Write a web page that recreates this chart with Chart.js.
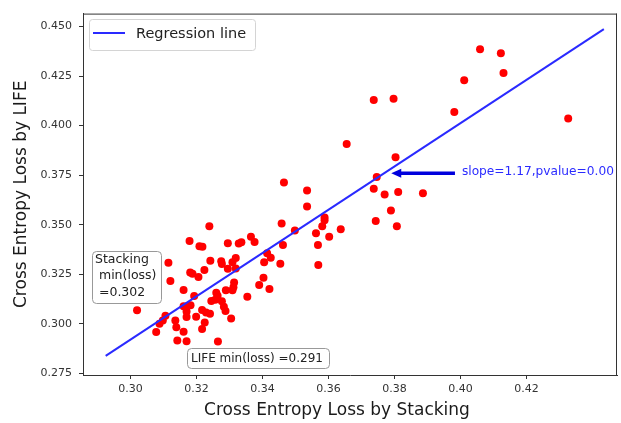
<!DOCTYPE html>
<html>
<head>
<meta charset="utf-8">
<title>Cross Entropy Loss: LIFE vs Stacking</title>
<script src="https://cdn.jsdelivr.net/npm/chart.js@4.4.0/dist/chart.umd.min.js"></script>
<style>
  html, body { margin: 0; padding: 0; background: #fff; }
  #chart { display: block; }
</style>
</head>
<body>
<canvas id="chart" width="621" height="423"></canvas>
<script>
// loss per run: x = Stacking, y = LIFE
const xStacking = [
  0.4059, 0.4122, 0.4130, 0.4011, 0.3737, 0.3797, 0.3981, 0.4326, 0.3655, 0.3803,
  0.3746, 0.3737, 0.3770, 0.3811, 0.3886, 0.3789, 0.3743, 0.3807,
  0.3465, 0.3535, 0.3535, 0.3458, 0.3239, 0.3179, 0.3209, 0.3218, 0.3295, 0.3328,
  0.3336, 0.3365, 0.3376, 0.3498, 0.3462, 0.3562, 0.3588, 0.3588, 0.3581, 0.3637,
  0.3602, 0.3568, 0.3569, 0.3454, 0.3414, 0.3425, 0.3405, 0.3403, 0.3390, 0.3421,
  0.3354, 0.3115, 0.3121, 0.3020, 0.3181, 0.3188, 0.3206, 0.3224, 0.3242, 0.3275,
  0.3277, 0.3295, 0.3309, 0.3319, 0.3319, 0.3161, 0.3193, 0.3314, 0.3312, 0.3309,
  0.3289, 0.3260, 0.3264, 0.3257, 0.3245, 0.3277, 0.3283, 0.3288, 0.3305, 0.3241,
  0.3229, 0.3217, 0.3199, 0.3225, 0.3217, 0.3182, 0.3170, 0.3161, 0.3170, 0.3170,
  0.3136, 0.3139, 0.3161, 0.3106, 0.3098, 0.3088, 0.3078, 0.3142, 0.3170, 0.3265
];
const yLife = [
  0.4385, 0.4365, 0.4265, 0.4229, 0.4129, 0.4136, 0.4069, 0.4036, 0.3907, 0.3840,
  0.3741, 0.3681, 0.3652, 0.3665, 0.3658, 0.3572, 0.3518, 0.3492,
  0.3713, 0.3672, 0.3592, 0.3506, 0.3492, 0.3418, 0.3391, 0.3389, 0.3406, 0.3405,
  0.3411, 0.3439, 0.3413, 0.3471, 0.3398, 0.3457, 0.3536, 0.3522, 0.3492, 0.3477,
  0.3439, 0.3398, 0.3296, 0.3303, 0.3356, 0.3333, 0.3310, 0.3232, 0.3196, 0.3176,
  0.3136, 0.3308, 0.3216, 0.3068, 0.3259, 0.3253, 0.3236, 0.3271, 0.3318, 0.3316,
  0.3301, 0.3277, 0.3311, 0.3332, 0.3279, 0.3170, 0.3140, 0.3208, 0.3184, 0.3169,
  0.3169, 0.3157, 0.3142, 0.3121, 0.3115, 0.3114, 0.3086, 0.3065, 0.3027, 0.3051,
  0.3057, 0.3069, 0.3036, 0.3006, 0.2973, 0.3094, 0.3087, 0.3089, 0.3062, 0.3034,
  0.3017, 0.2983, 0.2960, 0.3041, 0.3017, 0.3000, 0.2958, 0.2915, 0.2912, 0.2910
];

// fitted line end points
const lineX = [0.2925, 0.4434];
const lineY = [0.2838, 0.4487];

const xTicks = [0.30, 0.32, 0.34, 0.36, 0.38, 0.40, 0.42];
const yTicks = [0.275, 0.300, 0.325, 0.350, 0.375, 0.400, 0.425, 0.450];

const legendLabel = 'Regression line';
const slopeText = 'slope=1.17,pvalue=0.00';
const stackingMinText = ['Stacking', ' min(loss)', ' =0.302'];
const lifeMinText = 'LIFE min(loss) =0.291';
const xTitle = 'Cross Entropy Loss by Stacking';
const yTitle = 'Cross Entropy Loss by LIFE';

const FONT = '"DejaVu Sans", sans-serif';
const LINE_BLUE = '#2a2aff';

function roundBox(ctx, x, y, w, h, r, stroke) {
  ctx.beginPath();
  ctx.roundRect(x, y, w, h, r);
  ctx.fillStyle = '#fff';
  ctx.fill();
  ctx.strokeStyle = stroke;
  ctx.lineWidth = 1;
  ctx.stroke();
}

// spines, titles, legend, text boxes and the slope arrow
const extras = {
  id: 'extras',
  afterDraw(chart) {
    const ctx = chart.ctx;
    const a = chart.chartArea;
    const sx = chart.scales.x, sy = chart.scales.y;
    ctx.save();

    // top + right spines
    ctx.strokeStyle = '#333';
    ctx.lineWidth = 1;
    ctx.beginPath();
    ctx.moveTo(a.left, a.top + 0.5);
    ctx.lineTo(a.right, a.top + 0.5);
    ctx.moveTo(a.right - 0.5, a.top);
    ctx.lineTo(a.right - 0.5, a.bottom);
    ctx.stroke();

    // axis titles
    ctx.fillStyle = '#1a1a1a';
    ctx.font = '17px ' + FONT;
    ctx.textAlign = 'center';
    ctx.textBaseline = 'middle';
    ctx.fillText(xTitle, 337, 411);
    ctx.save();
    ctx.translate(22, (a.top + a.bottom) / 2);
    ctx.rotate(-Math.PI / 2);
    ctx.fillText(yTitle, 0, 0);
    ctx.restore();

    // legend
    roundBox(ctx, 89.5, 19.5, 166, 31, 3, '#d4d4d4');
    ctx.strokeStyle = LINE_BLUE;
    ctx.lineWidth = 2;
    ctx.beginPath();
    ctx.moveTo(93, 33);
    ctx.lineTo(125, 33);
    ctx.stroke();
    ctx.fillStyle = '#222';
    ctx.font = '14.5px ' + FONT;
    ctx.textAlign = 'left';
    ctx.fillText(legendLabel, 136, 34);

    // Stacking min box
    roundBox(ctx, 92.5, 251.5, 69, 52, 4, '#999');
    ctx.fillStyle = '#222';
    ctx.font = '12.5px ' + FONT;
    stackingMinText.forEach((t, i) => ctx.fillText(t, 95, 260 + i * 16.2));

    // LIFE min box
    roundBox(ctx, 187.5, 348.5, 142, 20, 4, '#999');
    ctx.font = '12px ' + FONT;
    ctx.fillStyle = '#222';
    ctx.fillText(lifeMinText, 191, 358.5);

    // slope arrow and text
    const tipX = sx.getPixelForValue(0.3790);
    const tailX = sx.getPixelForValue(0.3983);
    const ay = sy.getPixelForValue(0.3759);
    ctx.strokeStyle = '#0000dd';
    ctx.fillStyle = '#0000dd';
    ctx.lineWidth = 3.5;
    ctx.beginPath();
    ctx.moveTo(tailX, ay);
    ctx.lineTo(tipX + 8, ay);
    ctx.stroke();
    ctx.beginPath();
    ctx.moveTo(tipX, ay);
    ctx.lineTo(tipX + 10, ay - 4.5);
    ctx.lineTo(tipX + 10, ay + 4.5);
    ctx.closePath();
    ctx.fill();

    ctx.fillStyle = '#2b2bff';
    ctx.font = '12.2px ' + FONT;
    ctx.textAlign = 'left';
    ctx.fillText(slopeText, sx.getPixelForValue(0.4004), sy.getPixelForValue(0.3769));

    ctx.restore();
  }
};

const points = xStacking.map((x, i) => ({ x: x, y: yLife[i] }));
const fitLine = lineX.map((x, i) => ({ x: x, y: lineY[i] }));

new Chart(document.getElementById('chart'), {
  type: 'scatter',
  data: {
    datasets: [
      {
        label: legendLabel,
        type: 'line',
        data: fitLine,
        borderColor: LINE_BLUE,
        borderWidth: 2,
        pointRadius: 0,
        fill: false,
        order: 0
      },
      {
        label: 'runs',
        data: points,
        backgroundColor: '#ff0000',
        borderWidth: 0,
        pointRadius: 4,
        order: 1
      }
    ]
  },
  options: {
    responsive: false,
    animation: false,
    layout: { padding: { top: 11, right: 1, left: 0, bottom: 0 } },
    plugins: { legend: { display: false }, tooltip: { enabled: false } },
    scales: {
      x: {
        type: 'linear',
        min: 0.28563,
        max: 0.44738,
        afterBuildTicks: s => { s.ticks = xTicks.map(v => ({ value: v })); },
        afterFit: s => { s.height = 48; },
        ticks: {
          font: { family: FONT, size: 11 },
          color: '#333',
          padding: 4,
          maxRotation: 0,
          autoSkip: false,
          callback: v => v.toFixed(2)
        },
        grid: { drawOnChartArea: false, drawTicks: true, tickLength: 4, color: '#333' },
        border: { display: true, color: '#333', width: 1 }
      },
      y: {
        type: 'linear',
        min: 0.27415,
        max: 0.45651,
        afterBuildTicks: s => { s.ticks = yTicks.map(v => ({ value: v })); },
        afterFit: s => { s.width = 83; },
        ticks: {
          font: { family: FONT, size: 11 },
          color: '#333',
          padding: 7,
          autoSkip: false,
          callback: v => v.toFixed(3)
        },
        grid: { drawOnChartArea: false, drawTicks: true, tickLength: 4, color: '#333' },
        border: { display: true, color: '#333', width: 1 }
      }
    }
  },
  plugins: [extras]
});
</script>
</body>
</html>
